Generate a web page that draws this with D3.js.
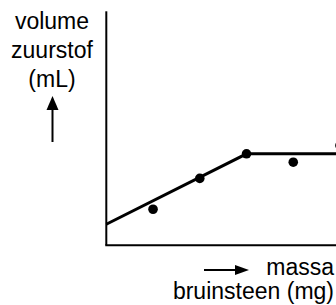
<!DOCTYPE html>
<html>
<head>
<meta charset="utf-8">
<script src="https://cdn.jsdelivr.net/npm/d3@7"></script>
<style>
  html, body { margin: 0; padding: 0; background: #fff; }
  svg { display: block; }
  text { font-family: "Liberation Sans", Arial, sans-serif; font-size: 23px; fill: #000; }
</style>
</head>
<body>
<div id="chart"></div>
<script>
// measured points (massa bruinsteen vs volume zuurstof)
const pointMass = [1, 2, 3, 4, 5];
const pointVolume = [15.4, 28.6, 39.1, 35.5, 42.7];

// drawn trend line: rising part, then flat
const lineMass = [0, 3, 5.3];
const lineVolume = [9, 39.1, 39.1];

const yLabel = ['volume', 'zuurstof', '(mL)'];
const xLabel = ['massa', 'bruinsteen (mg)'];

const width = 336, height = 305;

const svg = d3.select('#chart')
    .append('svg')
    .attr('width', width)
    .attr('height', height);

const x = d3.scaleLinear().domain([0, 5]).range([106.3, 340]);
const y = d3.scaleLinear().domain([0, 100]).range([245.3, 11.3]);

// axes without ticks
svg.append('line')
    .attr('x1', x(0)).attr('x2', x(0))
    .attr('y1', y(0)).attr('y2', y(100))
    .attr('stroke', '#000').attr('stroke-width', 2);
svg.append('line')
    .attr('x1', x(0) - 1).attr('x2', x(5.3))
    .attr('y1', y(0)).attr('y2', y(0))
    .attr('stroke', '#000').attr('stroke-width', 2);

// trend line
const line = d3.line()
    .x(i => x(lineMass[i]))
    .y(i => y(lineVolume[i]));

svg.append('path')
    .attr('d', line(d3.range(lineMass.length)))
    .attr('fill', 'none')
    .attr('stroke', '#000')
    .attr('stroke-width', 3);

// data points
svg.selectAll('circle')
    .data(pointMass)
    .enter()
    .append('circle')
    .attr('cx', d => x(d))
    .attr('cy', (d, i) => y(pointVolume[i]))
    .attr('r', 4.8)
    .attr('fill', '#000');

// y label
svg.append('text')
    .attr('text-anchor', 'middle')
    .selectAll('tspan')
    .data(yLabel)
    .enter()
    .append('tspan')
    .attr('x', 52)
    .attr('y', (d, i) => 28.5 + i * 29)
    .text(d => d);

// up arrow
svg.append('line')
    .attr('x1', 52.5).attr('x2', 52.5)
    .attr('y1', 142).attr('y2', 106)
    .attr('stroke', '#000').attr('stroke-width', 2);
svg.append('path')
    .attr('d', 'M52.5,96 L46.5,110 L58.5,110 Z')
    .attr('fill', '#000');

// x label
svg.append('text')
    .attr('text-anchor', 'end')
    .selectAll('tspan')
    .data(xLabel)
    .enter()
    .append('tspan')
    .attr('x', 334)
    .attr('y', (d, i) => 275 + i * 24)
    .text(d => d);

// right arrow
svg.append('line')
    .attr('x1', 204).attr('x2', 238)
    .attr('y1', 270).attr('y2', 270)
    .attr('stroke', '#000').attr('stroke-width', 2);
svg.append('path')
    .attr('d', 'M249,270 L235,265 L235,275 Z')
    .attr('fill', '#000');
</script>
</body>
</html>
